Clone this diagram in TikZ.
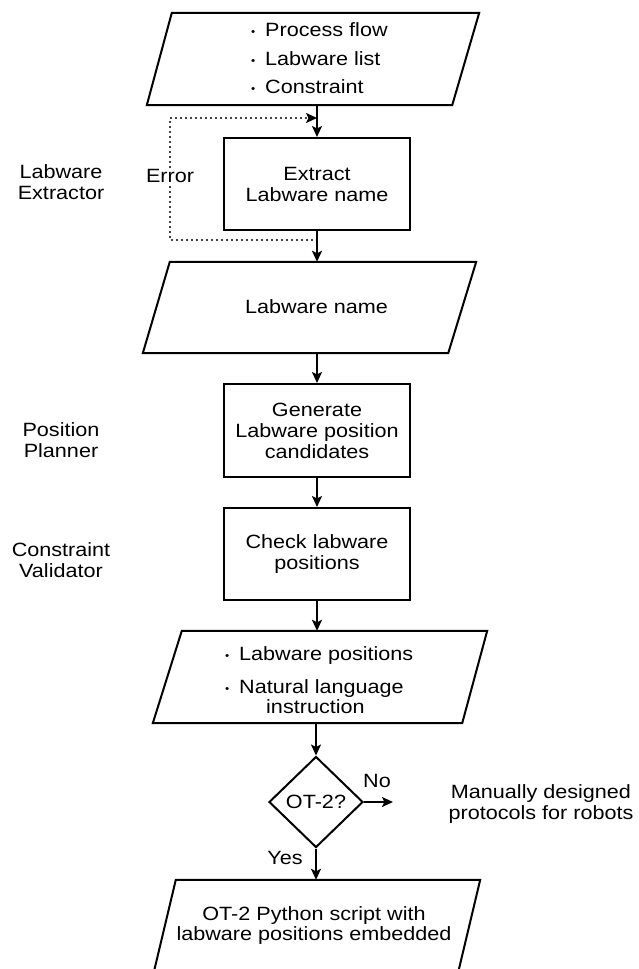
\documentclass[tikz,border=0pt]{standalone}
\usepackage{fontspec}
\setmainfont{Liberation Sans}[FakeStretch=1.125]
\usetikzlibrary{arrows.meta,shapes.geometric,calc}
\newcommand\bul{\makebox[15pt][l]{\hspace*{1pt}\raisebox{1.3pt}{\scalebox{0.55}{•}}}}
\begin{document}
\begin{tikzpicture}[x=1pt,y=-1pt,
  font=\fontsize{19.2}{21}\selectfont,
  shapeline/.style={line width=2pt, line join=miter},
  procbox/.style={draw, line width=2pt, minimum width=186pt, minimum height=92pt, inner sep=0pt, align=center},
  paraarea/.style={inner sep=0pt},
  arr/.style={line width=2pt, -{Stealth[length=11pt,width=10pt,inset=2.5pt]}},
  dotarr/.style={line width=2.4pt, line cap=round, dash pattern=on 0pt off 5pt, -{Stealth[length=11pt,width=10pt,inset=2.5pt]}},
  lbl/.style={align=center, inner sep=0pt},
  txt/.style={align=left, inner sep=0pt, anchor=west}]
\useasboundingbox (0,0) rectangle (638,969);

% left labels
\node[lbl] (l1) at (61,182) {Labware\\Extractor};
\node[lbl] (l2) at (61,440) {Position\\Planner};
\node[lbl] (l3) at (61,560) {Constraint\\Validator};

% parallelogram 1
\node[paraarea, minimum width=332pt, minimum height=92pt] (p1) at (313,59) {};
\draw[shapeline] ([xshift=25pt]p1.north west) -- (p1.north east) -- ([xshift=-27pt]p1.south east) -- (p1.south west) -- cycle;
\node[txt] (p1t) at (250,58.5) {\bul Process flow\\[7.5pt]\bul Labware list\\[7.5pt]\bul Constraint};

% box 1
\node[procbox] (b1) at (317,184) {Extract\\Labware name};

% parallelogram 2
\node[paraarea, minimum width=333pt, minimum height=91pt] (p2) at (309.5,307.5) {};
\draw[shapeline] ([xshift=27pt]p2.north west) -- (p2.north east) -- ([xshift=-28pt]p2.south east) -- (p2.south west) -- cycle;
\node[lbl] (p2t) at (316.5,307) {Labware name};

% box 2, box 3
\node[procbox, minimum height=93pt] (b2) at (317,430.5) {Generate\\Labware position\\candidates};
\node[procbox] (b3) at (317,554) {Check labware\\positions};

% parallelogram 3
\node[paraarea, minimum width=334pt, minimum height=92pt] (p3) at (320,677) {};
\draw[shapeline] ([xshift=29pt]p3.north west) -- (p3.north east) -- ([xshift=-25pt]p3.south east) -- (p3.south west) -- cycle;
\node[txt] (p3t) at (224,680) {\bul Labware positions\\[12pt]\bul Natural language\\[-1pt]\hspace*{42pt}instruction};

% decision
\node[draw, diamond, line width=2pt, minimum width=94pt, minimum height=91pt, inner sep=0pt, aspect=1] (d) at (316,802) {OT-2?};
\coordinate (noend) at (393,802);
\node[lbl] (no) at (377,781) {No};
\node[lbl] (yes) at (285,858) {Yes};
\node[lbl] (man) at (541,804) {Manually designed\\protocols for robots};

% parallelogram 4
\node[paraarea, minimum width=326pt, minimum height=92pt] (p4) at (317,926) {};
\draw[shapeline] ([xshift=22pt]p4.north west) -- (p4.north east) -- ([xshift=-22pt]p4.south east) -- (p4.south west) -- cycle;
\node[lbl] (p4t) at (314,926) {OT-2 Python script with\\[-1pt]labware positions embedded};

% connectors
\draw[arr] (p1.south -| b1.north) -- (b1.north);
\draw[arr] (b1.south) -- (p2.north -| b1.south);
\draw[arr] (p2.south -| b2.north) -- (b2.north);
\draw[arr] (b2.south) -- (b3.north);
\draw[arr] (b3.south) -- (p3.north -| b3.south);
\draw[arr] (p3.south -| d.north) -- (d.north);
\draw[arr] (d.south) -- (p4.north -| d.south);
\draw[arr] (d.east) -- (noend);

% error loop
\coordinate (e1) at (170,240);
\coordinate (e2) at (170,118);
\draw[dotarr] (b1.south |- e1) -- (e1) -- (e2) -- (b1.north |- e2);
\node[lbl, fill=white, inner sep=1pt] (err) at (170,176) {Error};
\end{tikzpicture}
\end{document}
